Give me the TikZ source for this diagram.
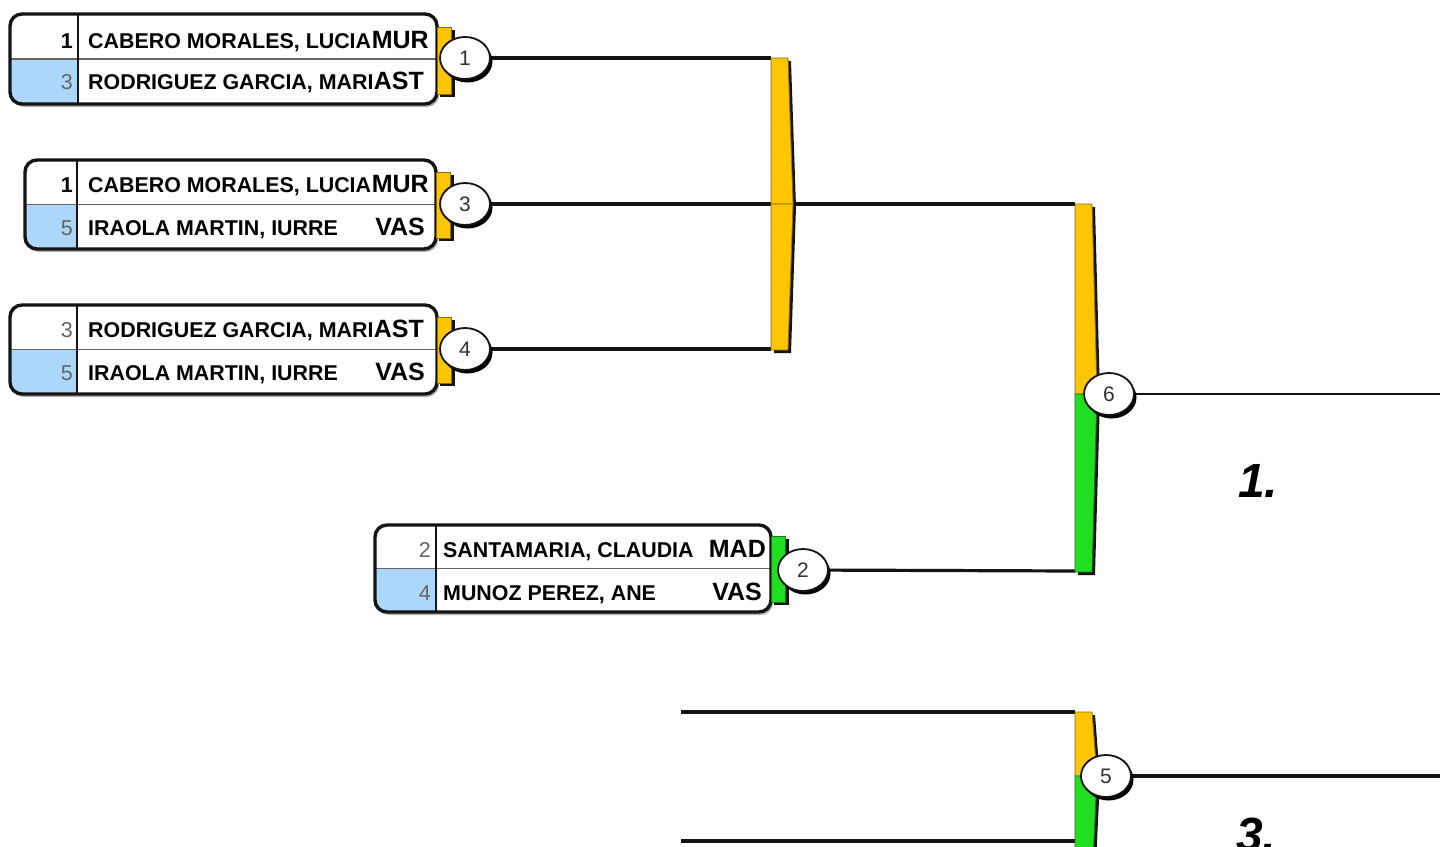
\documentclass[tikz,border=0pt]{standalone}
\usepackage{fontspec}
\setmainfont{Liberation Sans}
\usetikzlibrary{shapes.geometric,shadows}
\definecolor{byel}{RGB}{255,198,0}
\definecolor{bgreen}{RGB}{34,222,34}
\definecolor{seedblue}{RGB}{172,214,250}
\definecolor{bdark}{RGB}{20,20,20}
\tikzset{
  namet/.style={anchor=base west, inner sep=0pt, font=\fontsize{21.4}{21.4}\selectfont\bfseries},
  clubt/.style={anchor=base east, inner sep=0pt, font=\fontsize{25}{25}\selectfont\bfseries},
  seedt/.style={anchor=base east, inner sep=0pt, font=\fontsize{21.5}{21.5}\selectfont, text=black!60},
  seedw/.style={anchor=base east, inner sep=0pt, font=\fontsize{21.5}{21.5}\selectfont\bfseries, text=black},
  matchc/.style={ellipse, draw=bdark, line width=1.8pt, fill=white, minimum width=50pt, minimum height=42pt, inner sep=0pt,
     font=\fontsize{21}{21}\selectfont, text=black!80,
     drop shadow={shadow xshift=2.5pt, shadow yshift=-3.5pt, fill=black, opacity=1}},
  conn/.style={line width=3.2pt, draw=bdark},
  thinconn/.style={line width=1.8pt, draw=bdark},
  place/.style={anchor=base west, inner sep=0pt, font=\fontsize{48}{48}\selectfont\bfseries\itshape},
}
% box: L, T, R, B, divider x
\newcommand\matchbox[5]{%
  \pgfmathsetmacro\mboxmid{(#2+#4)/2}
  \fill[black!30, rounded corners=12pt] (#1+2,#2+2) rectangle (#3+2,#4+3);
  \begin{scope}
    \clip[rounded corners=12pt] (#1,#2) rectangle (#3,#4);
    \fill[white] (#1,#2) rectangle (#3,#4);
    \fill[seedblue] (#1,\mboxmid) rectangle (#5,#4);
  \end{scope}
  \draw[black!60, line width=1.3pt] (#1,\mboxmid) -- (#3,\mboxmid);
  \draw[bdark, line width=1.5pt] (#5,#2) -- (#5,#4);
  \draw[bdark, line width=3.4pt, rounded corners=12pt] (#1,#2) rectangle (#3,#4);
}
% tab: x, top, bottom, colour
\newcommand\matchtab[4]{%
  \fill[bdark] (#1+3,#2+3) rectangle (#1+18,#3+3);
  \fill[#4, draw=#4!55!black, line width=0.8pt] (#1,#2) rectangle (#1+14,#3);
}
% tapered bar: L, T, B, mid, top colour, bottom colour
\newcommand\tbar[6]{%
  \fill[bdark] (#1+3,#2+3) -- (#1+20,#2+3) -- (#1+25,#4+3) -- (#1+20,#3+3) -- (#1+3,#3+3) -- cycle;
  \fill[#5, draw=#5!55!black, line width=0.8pt] (#1,#2) -- (#1+17,#2) -- (#1+22,#4) -- (#1,#4) -- cycle;
  \fill[#6, draw=#6!55!black, line width=0.8pt] (#1,#4) -- (#1+22,#4) -- (#1+17,#3) -- (#1,#3) -- cycle;
}
\begin{document}
\begin{tikzpicture}[x=1pt,y=-1pt]
\useasboundingbox (0,0) rectangle (1440,846);
\fill[white] (0,0) rectangle (1440,846);

% boxes
\matchbox{10}{14}{437}{104}{78}
\matchbox{25}{160}{436}{249}{77}
\matchbox{10}{305}{437}{394}{77}
\matchbox{375}{525}{771}{612}{436}

% tabs
\matchtab{437}{27}{94}{byel}
\matchtab{436}{172}{238}{byel}
\matchtab{437}{317}{383}{byel}
\matchtab{771}{536}{602}{bgreen}

% coordinates of bars and free ends
\coordinate (barA1) at (771,58);
\coordinate (barA3) at (771,204);
\coordinate (barA4) at (771,349);
\coordinate (barAout) at (793,204);
\coordinate (barBtop) at (1075,204);
\coordinate (barBbot) at (1075,571);
\coordinate (barCtop) at (1075,712);
\coordinate (barCbot) at (1075,841);
\coordinate (s1) at (681,712);
\coordinate (s2) at (681,841);
\coordinate (end6) at (1440,394);
\coordinate (end5) at (1440,776);

% match circles (positions)
\path (465,58) coordinate (p1) (465,204) coordinate (p3) (465,349) coordinate (p4)
      (803,570) coordinate (p2) (1109,394) coordinate (p6) (1106,776) coordinate (p5);

% connectors
\draw[conn] (p1) -- (barA1);
\draw[conn] (p3) -- (barA3);
\draw[conn] (p4) -- (barA4);
\draw[conn] (barAout) -- (barBtop);
\draw[conn] (p2) -- (barBbot);
\draw[thinconn] (p6) -- (end6);
\draw[conn] (p5) -- (end5);
\draw[conn] (s1) -- (barCtop);
\draw[conn] (s2) -- (barCbot);

% bars
\tbar{771}{58}{350}{204}{byel}{byel}
\tbar{1075}{204}{572}{394}{byel}{bgreen}
\tbar{1075}{712}{880}{776}{byel}{bgreen}

% circles
\node[matchc] (m1) at (p1) {1};
\node[matchc] (m3) at (p3) {3};
\node[matchc] (m4) at (p4) {4};
\node[matchc] (m2) at (p2) {2};
\node[matchc] (m6) at (p6) {6};
\node[matchc] (m5) at (p5) {5};

% box A
\node[seedw] (a1s) at (73,48) {1};
\node[namet] (a1n) at (88,48) {CABERO MORALES, LUCIA};
\node[clubt] (a1c) at (429,48) {MUR};
\node[seedt] (a2s) at (73,89) {3};
\node[namet] (a2n) at (88,89) {RODRIGUEZ GARCIA, MARI};
\node[clubt] (a2c) at (424,89) {AST};
% box B
\node[seedw] (b1s) at (73,192) {1};
\node[namet] (b1n) at (88,192) {CABERO MORALES, LUCIA};
\node[clubt] (b1c) at (429,192) {MUR};
\node[seedt] (b2s) at (73,235) {5};
\node[namet] (b2n) at (88,235) {IRAOLA MARTIN, IURRE};
\node[clubt] (b2c) at (425,235) {VAS};
% box C
\node[seedt] (c1s) at (73,337) {3};
\node[namet] (c1n) at (88,337) {RODRIGUEZ GARCIA, MARI};
\node[clubt] (c1c) at (424,337) {AST};
\node[seedt] (c2s) at (73,380) {5};
\node[namet] (c2n) at (88,380) {IRAOLA MARTIN, IURRE};
\node[clubt] (c2c) at (425,380) {VAS};
% box D
\node[seedt] (d1s) at (431,557) {2};
\node[namet] (d1n) at (443,557) {SANTAMARIA, CLAUDIA};
\node[clubt] (d1c) at (766,557) {MAD};
\node[seedt] (d2s) at (431,600) {4};
\node[namet] (d2n) at (443,600) {MUNOZ PEREZ, ANE};
\node[clubt] (d2c) at (762,600) {VAS};

% places
\node[place] (pl1) at (1238,497) {1.};
\node[place] (pl3) at (1236,851) {3.};
\end{tikzpicture}
\end{document}
